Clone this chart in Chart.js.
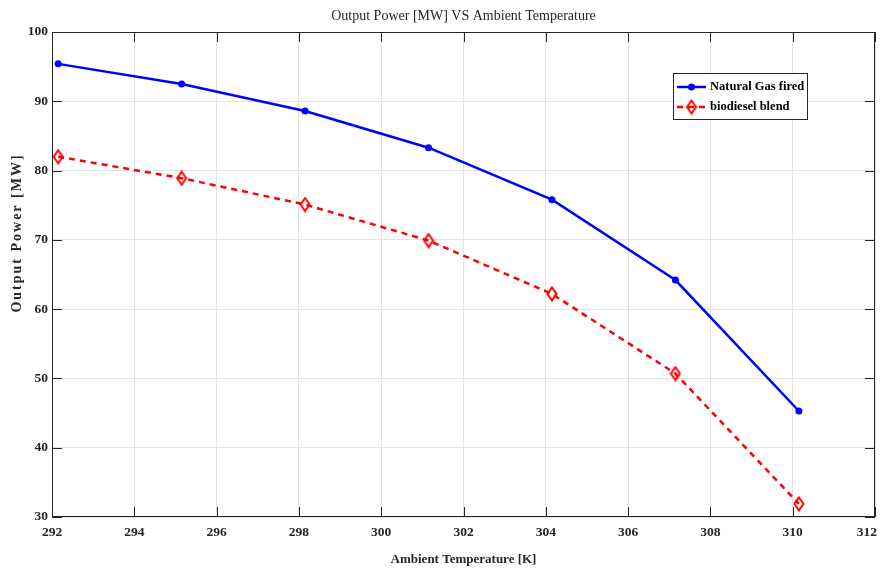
<!DOCTYPE html>
<html>
<head>
<meta charset="utf-8">
<script src="https://cdn.jsdelivr.net/npm/chart.js@4.4.1/dist/chart.umd.min.js"></script>
<style>
  html, body { margin: 0; padding: 0; background: #fff; }
  #wrap { width: 883px; height: 572px; }
</style>
</head>
<body>
<div id="wrap"><canvas id="chart"></canvas></div>
<script>
// data
const temps = [292.15, 295.15, 298.15, 301.15, 304.15, 307.15, 310.15];
const naturalGas = [95.4, 92.5, 88.6, 83.3, 75.8, 64.2, 45.3];
const biodiesel = [82.0, 78.9, 75.1, 69.9, 62.2, 50.7, 31.9];
const xTicks = [292, 294, 296, 298, 300, 302, 304, 306, 308, 310, 312];
const yTicks = [30, 40, 50, 60, 70, 80, 90, 100];

const serif = '"Liberation Serif", "Times New Roman", serif';
const axisColor = '#262626';

// open red diamond marker
function diamond() {
  const c = document.createElement('canvas');
  c.width = 12; c.height = 16;
  const g = c.getContext('2d');
  g.strokeStyle = '#ff0000';
  g.lineWidth = 2;
  g.beginPath();
  g.moveTo(6, 1.5); g.lineTo(10.5, 8); g.lineTo(6, 14.5); g.lineTo(1.5, 8);
  g.closePath();
  g.stroke();
  return c;
}
const diamondMark = diamond();

// box, inner ticks, x labels, titles and legend
const decor = {
  id: 'decor',
  afterDatasetsDraw(chart) {
    const ctx = chart.ctx;
    const { left, right, top, bottom } = chart.chartArea;
    const xs = chart.scales.x, ys = chart.scales.y;
    ctx.save();
    ctx.strokeStyle = axisColor;
    ctx.lineWidth = 1;
    ctx.beginPath();
    xTicks.forEach(v => {
      const px = Math.round(xs.getPixelForValue(v)) + 0.5;
      ctx.moveTo(px, bottom); ctx.lineTo(px, bottom - 10);
      ctx.moveTo(px, top); ctx.lineTo(px, top + 10);
    });
    yTicks.forEach(v => {
      const py = Math.round(ys.getPixelForValue(v)) + 0.5;
      ctx.moveTo(left, py); ctx.lineTo(left + 10, py);
      ctx.moveTo(right, py); ctx.lineTo(right - 10, py);
    });
    ctx.stroke();
    ctx.strokeRect(left + 0.5, top + 0.5, right - left - 1, bottom - top - 1);

    // x tick labels (last one kept inside the page)
    ctx.fillStyle = '#262626';
    ctx.textAlign = 'center';
    ctx.textBaseline = 'middle';
    ctx.font = 'bold 13.5px ' + serif;
    xTicks.forEach(v => {
      const label = String(v);
      const w = ctx.measureText(label).width;
      let px = xs.getPixelForValue(v);
      px = Math.min(px, 877 - w / 2);
      ctx.fillText(label, px, bottom + 16);
    });

    // titles
    ctx.font = '14px ' + serif;
    ctx.fillText('Output Power [MW] VS Ambient Temperature', (left + right) / 2, 16);
    ctx.font = 'bold 13px ' + serif;
    ctx.fillText('Ambient Temperature [K]', (left + right) / 2, 560);
    ctx.save();
    ctx.translate(17, 233);
    ctx.rotate(-Math.PI / 2);
    ctx.letterSpacing = '2px';
    ctx.font = 'bold 14px ' + serif;
    ctx.fillText('Output Power [MW]', 0, 0);
    ctx.restore();

    // legend
    const lx = 673, ly = 73, lw = 134, lh = 46;
    ctx.fillStyle = '#fff';
    ctx.fillRect(lx, ly, lw, lh);
    ctx.strokeStyle = axisColor;
    ctx.strokeRect(lx + 0.5, ly + 0.5, lw, lh);
    ctx.lineWidth = 2.5;
    ctx.strokeStyle = '#0000ff';
    ctx.beginPath(); ctx.moveTo(677, 87); ctx.lineTo(706, 87); ctx.stroke();
    ctx.fillStyle = '#0000ff';
    ctx.beginPath(); ctx.arc(691.5, 87, 3.5, 0, Math.PI * 2); ctx.fill();
    ctx.strokeStyle = '#ff0000';
    ctx.setLineDash([6, 5]);
    ctx.beginPath(); ctx.moveTo(677, 107); ctx.lineTo(706, 107); ctx.stroke();
    ctx.setLineDash([]);
    ctx.drawImage(diamondMark, 685.5, 99);
    ctx.fillStyle = '#000';
    ctx.textAlign = 'left';
    ctx.font = 'bold 12.5px ' + serif;
    ctx.fillText('Natural Gas fired', 710, 87);
    ctx.fillText('biodiesel blend', 710, 107);
    ctx.restore();
  }
};

new Chart(document.getElementById('chart'), {
  type: 'line',
  data: {
    datasets: [{
      label: 'Natural Gas fired',
      data: temps.map((t, i) => ({ x: t, y: naturalGas[i] })),
      borderColor: '#0000ff',
      backgroundColor: '#0000ff',
      borderWidth: 2.5,
      pointRadius: 3.5,
      pointHoverRadius: 3.5,
      pointBorderWidth: 0,
      tension: 0
    }, {
      label: 'biodiesel blend',
      data: temps.map((t, i) => ({ x: t, y: biodiesel[i] })),
      borderColor: '#ff0000',
      backgroundColor: '#ff0000',
      borderWidth: 2.5,
      borderDash: [6, 5],
      pointStyle: diamondMark,
      tension: 0
    }]
  },
  options: {
    responsive: true,
    maintainAspectRatio: false,
    animation: false,
    events: [],
    layout: { padding: { top: 32, right: 8, left: 0, bottom: 0 } },
    plugins: {
      legend: { display: false },
      title: { display: false },
      tooltip: { enabled: false }
    },
    scales: {
      x: {
        type: 'linear',
        min: 292,
        max: 312,
        afterBuildTicks(scale) { scale.ticks = xTicks.map(v => ({ value: v })); },
        afterFit(scale) {
          scale.height = 55;
          scale.paddingLeft = 0;
          scale.paddingRight = 0;
        },
        grid: { color: '#e3e3e3', drawTicks: false },
        border: { display: false },
        ticks: { display: false }
      },
      y: {
        min: 30,
        max: 100,
        afterBuildTicks(scale) { scale.ticks = yTicks.map(v => ({ value: v })); },
        afterFit(scale) {
          scale.width = 52;
          scale.paddingTop = 0;
          scale.paddingBottom = 0;
        },
        grid: { color: '#e3e3e3', drawTicks: false },
        border: { display: false },
        ticks: {
          padding: 4,
          color: '#262626',
          font: { family: serif, size: 13.5, weight: 'bold' }
        }
      }
    }
  },
  plugins: [decor]
});
</script>
</body>
</html>
